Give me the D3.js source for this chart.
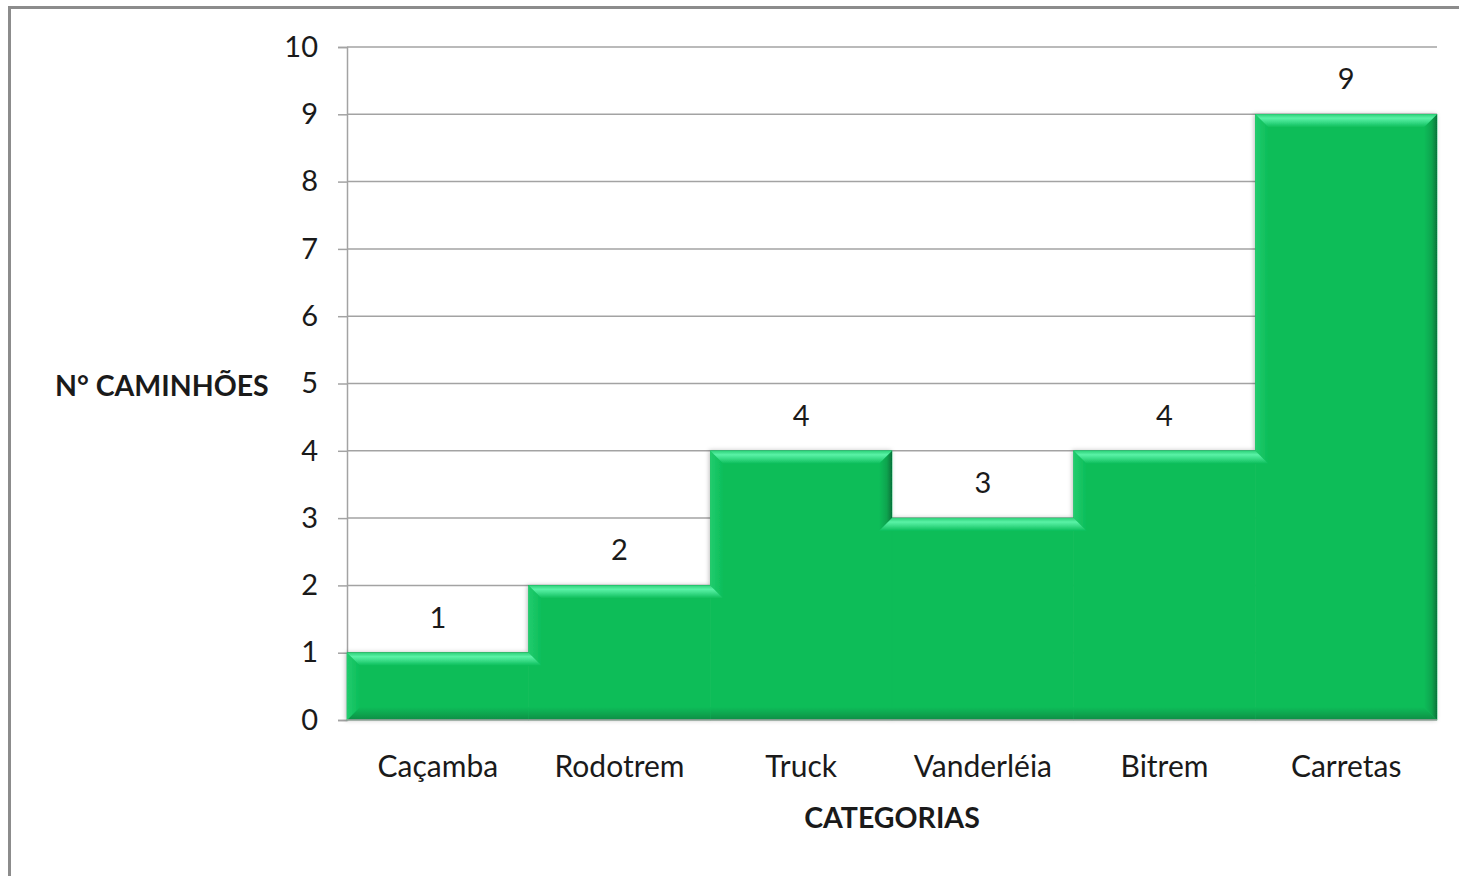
<!DOCTYPE html>
<html>
<head>
<meta charset="utf-8">
<script src="https://cdn.jsdelivr.net/npm/d3@7"></script>
<style>
  body { margin: 0; background: white; }
  text { font-family: Lato, "Open Sans", sans-serif; fill: #1a1a1a; }
</style>
</head>
<body>
<div id="chart"></div>
<script>
(function () {
    'use strict';

    var categorias = ["Caçamba", "Rodotrem", "Truck", "Vanderléia", "Bitrem", "Carretas"];
    var caminhoes = [1, 2, 4, 3, 4, 9];
    var yTicks = [0, 1, 2, 3, 4, 5, 6, 7, 8, 9, 10];

    var W = 1459, H = 876;
    var left = 347, right = 1437, top = 47, bottom = 720;

    var svg = d3.select("#chart").append("svg")
        .attr("width", W)
        .attr("height", H);

    // moldura do grafico
    svg.append("rect")
        .attr("x", 9.5).attr("y", 7.5)
        .attr("width", W + 20).attr("height", H + 20)
        .attr("fill", "none")
        .attr("stroke", "#8c8c8c")
        .attr("stroke-width", 3);

    var x = d3.scaleBand().domain(categorias).range([left, right]).padding(0);
    var y = d3.scaleLinear().domain([0, 10]).range([bottom, top]);

    var defs = svg.append("defs");
    function grad(id, x1, y1, x2, y2, stops) {
        var g = defs.append("linearGradient").attr("id", id)
            .attr("x1", x1).attr("y1", y1).attr("x2", x2).attr("y2", y2);
        stops.forEach(function (s) {
            g.append("stop").attr("offset", s[0]).attr("stop-color", s[1]);
        });
    }
    grad("bTop", 0, 0, 0, 1, [[0, "#2ed27a"], [0.3, "#5af2a6"], [0.55, "#3fe08d"], [1, "#0bbd59"]]);
    grad("bLeft", 0, 0, 1, 0, [[0, "#22cc6e"], [1, "#0bbd59"]]);
    grad("bRight", 0, 0, 1, 0, [[0, "#0bbd59"], [0.6, "#0aa44e"], [1, "#06733a"]]);
    grad("bBottom", 0, 0, 0, 1, [[0, "#0bbd59"], [0.6, "#0aa24d"], [1, "#0b8d45"]]);

    var shadow = defs.append("filter").attr("id", "sombra")
        .attr("x", "-5%").attr("y", "-5%").attr("width", "110%").attr("height", "110%");
    shadow.append("feDropShadow").attr("dx", -1).attr("dy", 0)
        .attr("stdDeviation", 2).attr("flood-color", "#000").attr("flood-opacity", 0.25);

    // linhas de grade
    svg.append("g").selectAll("line").data(yTicks.filter(function (d) { return d > 0; }))
        .enter().append("line")
        .attr("x1", left).attr("x2", right)
        .attr("y1", function (d) { return y(d); })
        .attr("y2", function (d) { return y(d); })
        .attr("stroke", "#a3a3a3")
        .attr("stroke-width", 1.5);

    // eixo y
    var yAxis = svg.append("g").attr("transform", "translate(" + left + ",0)")
        .call(d3.axisLeft(y).tickValues(yTicks).tickSize(9).tickPadding(20));
    yAxis.select(".domain").attr("stroke", "#a3a3a3").attr("stroke-width", 1.5);
    yAxis.selectAll(".tick line").attr("stroke", "#a3a3a3").attr("stroke-width", 1.5);
    yAxis.selectAll(".tick text")
        .attr("font-size", 29)
        .attr("font-family", "Lato, sans-serif")
        .attr("fill", "#1a1a1a");

    // barras com chanfro (gap 0: as barras vizinhas se fundem)
    var b = 13;
    var dados = categorias.map(function (c, i) { return { cat: c, v: caminhoes[i], i: i }; });
    var n = dados.length;
    var pts = function (a) { return a.map(function (p) { return p.join(","); }).join(" "); };

    var area = svg.append("g").attr("filter", "url(#sombra)");
    var bases = area.append("g");
    var chanfros = area.append("g");

    bases.selectAll("rect").data(dados).enter().append("rect")
        .attr("x", function (d) { return x(d.cat); })
        .attr("y", function (d) { return y(d.v); })
        .attr("width", x.bandwidth())
        .attr("height", function (d) { return y(0) - y(d.v); })
        .attr("fill", "#0bbd59")
        .attr("stroke", "#0bbd59")
        .attr("stroke-width", 0.6);

    dados.forEach(function (d) {
        var x0 = x(d.cat), x1 = x(d.cat) + x.bandwidth();
        var y0 = y(d.v), y1 = y(0);
        var vl = d.i > 0 ? caminhoes[d.i - 1] : null;
        var vr = d.i < n - 1 ? caminhoes[d.i + 1] : null;

        // fundo
        var bl = d.i === 0 ? x0 + b : x0;
        var br = d.i === n - 1 ? x1 - b : x1;
        chanfros.append("polygon").attr("fill", "url(#bBottom)")
            .attr("points", pts([[x0, y1], [bl, y1 - b], [br, y1 - b], [x1, y1]]));

        // lado esquerdo
        if (vl === null) {
            chanfros.append("polygon").attr("fill", "url(#bLeft)")
                .attr("points", pts([[x0, y0], [x0 + b, y0 + b], [x0 + b, y1 - b], [x0, y1]]));
        } else if (vl < d.v) {
            var yn = y(vl);
            chanfros.append("polygon").attr("fill", "url(#bLeft)")
                .attr("points", pts([[x0, y0], [x0 + b, y0 + b], [x0 + b, yn + b], [x0, yn]]));
        }
        // lado direito
        if (vr === null) {
            chanfros.append("polygon").attr("fill", "url(#bRight)")
                .attr("points", pts([[x1, y0], [x1, y1], [x1 - b, y1 - b], [x1 - b, y0 + b]]));
        } else if (vr < d.v) {
            var ym = y(vr);
            chanfros.append("polygon").attr("fill", "url(#bRight)")
                .attr("points", pts([[x1, y0], [x1, ym], [x1 - b, ym + b], [x1 - b, y0 + b]]));
        }
    });

    // topos por cima dos lados
    dados.forEach(function (d) {
        var x0 = x(d.cat), x1 = x(d.cat) + x.bandwidth();
        var y0 = y(d.v);
        var vl = d.i > 0 ? caminhoes[d.i - 1] : null;
        var vr = d.i < n - 1 ? caminhoes[d.i + 1] : null;
        var tl = (vl === null || vl < d.v) ? x0 + b : (vl > d.v ? x0 - b : x0);
        var tr = (vr === null || vr < d.v) ? x1 - b : (vr > d.v ? x1 + b : x1);
        chanfros.append("polygon").attr("fill", "url(#bTop)")
            .attr("points", pts([[x0, y0], [x1, y0], [tr, y0 + b], [tl, y0 + b]]));
    });

    // eixo x
    svg.append("line")
        .attr("x1", left).attr("x2", right)
        .attr("y1", bottom).attr("y2", bottom)
        .attr("stroke", "#a3a3a3").attr("stroke-width", 1.5);

    // rotulos de dados
    svg.append("g").selectAll("text")
        .data(caminhoes)
        .enter().append("text")
        .attr("x", function (d, i) { return x(categorias[i]) + x.bandwidth() / 2; })
        .attr("y", function (d) { return y(d) - 25; })
        .attr("text-anchor", "middle")
        .attr("font-size", 29)
        .text(function (d) { return d; });

    // categorias
    svg.append("g").selectAll("text")
        .data(categorias)
        .enter().append("text")
        .attr("x", function (d) { return x(d) + x.bandwidth() / 2; })
        .attr("y", 777)
        .attr("text-anchor", "middle")
        .attr("font-size", 30)
        .text(function (d) { return d; });

    // titulos dos eixos
    svg.append("text")
        .attr("x", 55).attr("y", 396)
        .attr("font-size", 28.5).attr("font-weight", "bold")
        .text("N° CAMINHÕES");

    svg.append("text")
        .attr("x", 892).attr("y", 828)
        .attr("text-anchor", "middle")
        .attr("font-size", 28.5).attr("font-weight", "bold")
        .text("CATEGORIAS");
})();
</script>
</body>
</html>
